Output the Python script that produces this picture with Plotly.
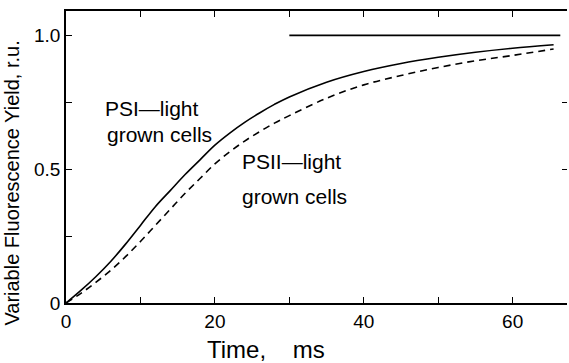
import plotly.graph_objects as go

# Time (ms)
t_psi1 = [0, 2, 4, 6, 8, 10, 12, 14, 16, 18, 20, 22, 24, 26, 28, 30, 35, 40, 45, 50, 55, 60, 65.5]
y_psi1 = [0, 0.047, 0.098, 0.155, 0.22, 0.29, 0.36, 0.42, 0.48, 0.535, 0.59, 0.635, 0.675, 0.71, 0.742, 0.77, 0.825, 0.865, 0.895, 0.918, 0.937, 0.952, 0.965]

t_psi2 = [0, 2, 4, 6, 8, 10, 12, 14, 16, 18, 20, 22, 24, 26, 28, 30, 35, 40, 45, 50, 55, 60, 65.5]
y_psi2 = [0, 0.036, 0.077, 0.122, 0.173, 0.23, 0.29, 0.35, 0.41, 0.465, 0.52, 0.565, 0.605, 0.64, 0.672, 0.70, 0.765, 0.815, 0.85, 0.88, 0.905, 0.925, 0.949]

t_max = [30, 66.4]
y_max = [1.0, 1.0]

x_tickvals = [0, 10, 20, 30, 40, 50, 60]
x_ticktext = ["0", "", "20", "", "40", "", "60"]
y_tickvals = [0, 0.25, 0.5, 0.75, 1.0]
y_ticktext = ["0", "", "0.5", "", "1.0"]

FONT = "Liberation Sans, Arial, sans-serif"

fig = go.Figure()
fig.add_trace(go.Scatter(x=t_psi1, y=y_psi1, mode="lines", line=dict(color="black", width=1.6, shape="spline", smoothing=1.0), showlegend=False))
fig.add_trace(go.Scatter(x=t_psi2, y=y_psi2, mode="lines", line=dict(color="black", width=1.6, dash="7px,5px", shape="spline", smoothing=1.0), showlegend=False))
fig.add_trace(go.Scatter(x=t_max, y=y_max, mode="lines", line=dict(color="black", width=1.6), showlegend=False))
# invisible trace for right-side ticks
fig.add_trace(go.Scatter(x=[0], y=[0], yaxis="y2", mode="markers", marker=dict(opacity=0), showlegend=False, hoverinfo="skip"))

fig.update_layout(
    width=569, height=363,
    margin=dict(l=66, r=2, t=11, b=59.5),
    paper_bgcolor="white", plot_bgcolor="white",
    font=dict(family=FONT, color="black"),
    xaxis=dict(range=[0, 67.3], tickvals=x_tickvals, ticktext=x_ticktext,
               ticks="inside", ticklen=6, tickwidth=1.3, tickcolor="black",
               showline=True, linecolor="black", linewidth=1.6, mirror="ticks",
               showgrid=False, zeroline=False, tickfont=dict(size=19, family=FONT)),
    yaxis=dict(range=[0, 1.091], tickvals=y_tickvals, ticktext=y_ticktext,
               ticks="inside", ticklen=6, tickwidth=1.3, tickcolor="black",
               showline=True, linecolor="black", linewidth=1.6,
               showgrid=False, zeroline=False, tickfont=dict(size=19, family=FONT)),
    yaxis2=dict(range=[0, 1.091], overlaying="y", side="right", tickvals=[0.5, 0.75],
                ticks="inside", ticklen=5, tickwidth=1.3, tickcolor="black",
                showticklabels=False, showline=False, showgrid=False, zeroline=False),
)

ann_font = dict(family=FONT, size=21, color="black")
fig.add_annotation(x=4.97, y=0.726, text="PSI\u2014light", showarrow=False, xanchor="left", yanchor="middle", font=ann_font)
fig.add_annotation(x=5.24, y=0.629, text="grown cells", showarrow=False, xanchor="left", yanchor="middle", font=ann_font)
fig.add_annotation(x=23.4, y=0.528, text="PSII\u2014light", showarrow=False, xanchor="left", yanchor="middle", font=ann_font)
fig.add_annotation(x=23.4, y=0.397, text="grown cells", showarrow=False, xanchor="left", yanchor="middle", font=ann_font)

fig.add_annotation(xref="paper", yref="paper", x=0.40, y=-0.159, text="Time,\u00a0\u00a0\u00a0\u00a0ms",
                   showarrow=False, xanchor="center", yanchor="middle", font=dict(family=FONT, size=24, color="black"))
fig.add_annotation(xref="paper", yref="paper", x=-0.108, y=0.412, text="Variable Fluorescence Yield, r.u.",
                   textangle=-90, showarrow=False, xanchor="center", yanchor="middle", font=dict(family=FONT, size=20, color="black"))

fig.write_html("out.html")
